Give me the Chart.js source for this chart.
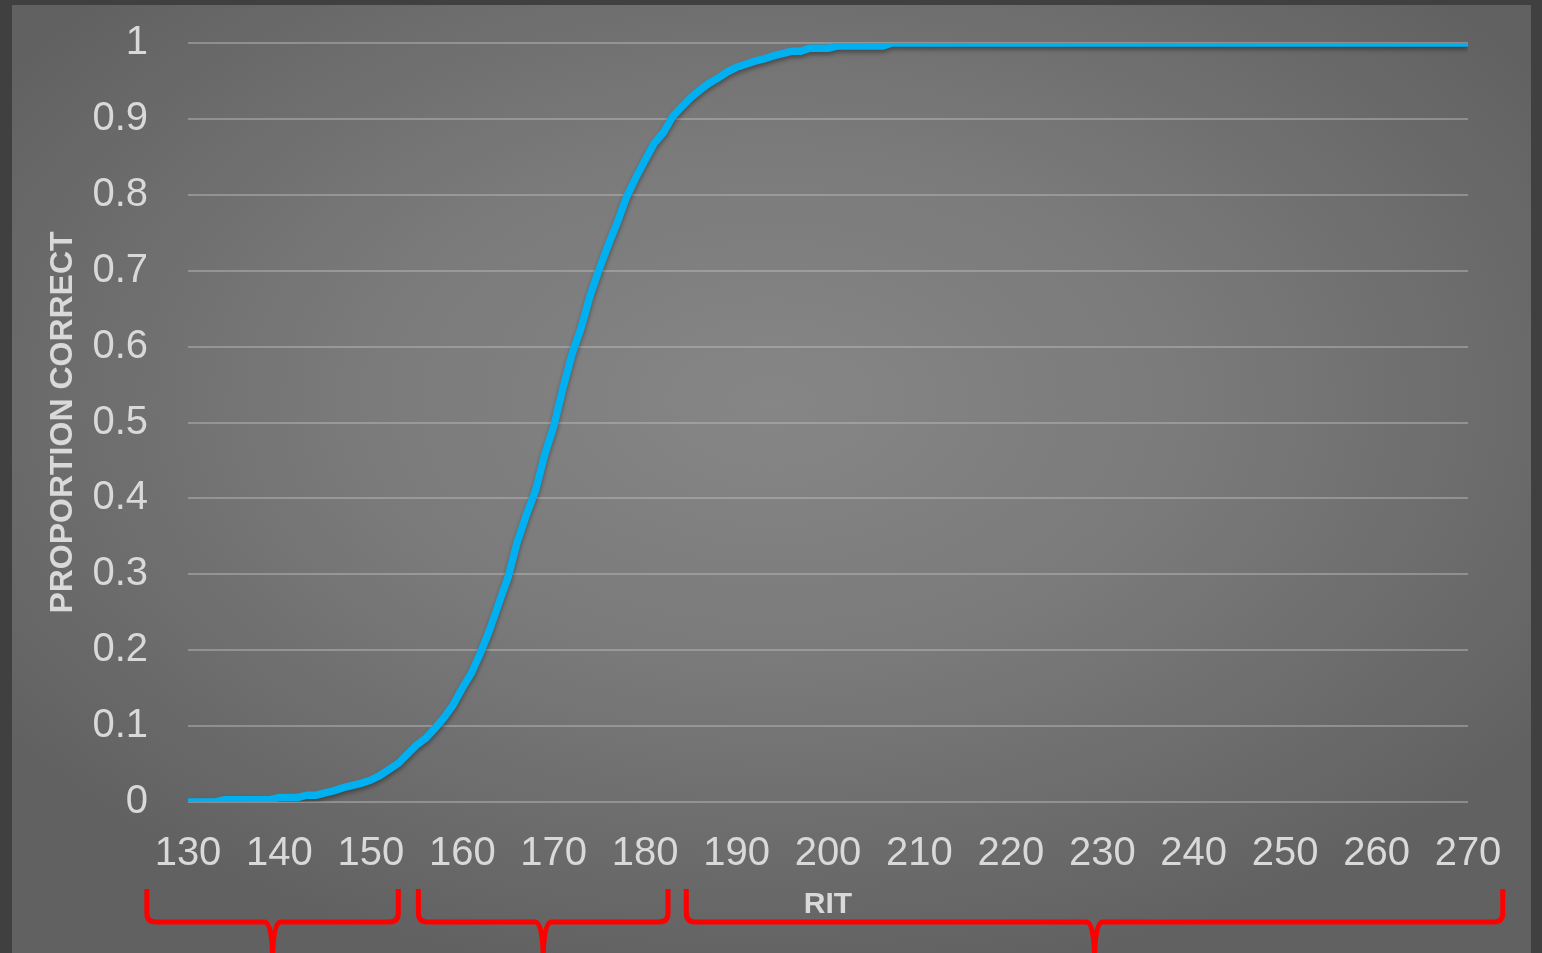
<!DOCTYPE html>
<html>
<head>
<meta charset="utf-8">
<title>Proportion correct by RIT</title>
<script src="https://cdn.jsdelivr.net/npm/chart.js@4/dist/chart.umd.min.js"></script>
<style>
  html, body { margin: 0; padding: 0; }
  body { width: 1542px; height: 953px; background: #404040; position: relative; overflow: hidden; }
  #panel {
    position: absolute; left: 12px; top: 5px; width: 1519px; height: 948px;
    background: radial-gradient(ellipse 62% 62% at 50% 42%, #868686 0%, #7a7a7a 45%, #6a6a6a 80%, #616161 100%);
  }
  #chart { position: absolute; left: 0; top: 0; }
</style>
</head>
<body>
<div id="panel"></div>
<canvas id="chart" width="1542" height="953"></canvas>
<script>
// RIT score for every point of the curve (one per scale point)
const ritStart = 130;
const ritEnd = 270;
const rit = [];
for (let r = ritStart; r <= ritEnd; r++) rit.push(r);

// proportion correct, 130 .. 270
const proportion = [
  0.000, 0.000, 0.000, 0.000, 0.003, 0.003, 0.003, 0.003, 0.003, 0.003, // 130-139
  0.006, 0.006, 0.006, 0.009, 0.009, 0.012, 0.015, 0.019, 0.022, 0.025, // 140-149
  0.029, 0.035, 0.043, 0.051, 0.063, 0.075, 0.084, 0.097, 0.111, 0.128, // 150-159
  0.150, 0.170, 0.197, 0.227, 0.262, 0.296, 0.342, 0.378, 0.410, 0.457, // 160-169
  0.495, 0.545, 0.590, 0.625, 0.668, 0.703, 0.735, 0.765, 0.798, 0.823, // 170-179
  0.846, 0.868, 0.882, 0.903, 0.916, 0.928, 0.938, 0.947, 0.954, 0.962, // 180-189
  0.968, 0.972, 0.976, 0.979, 0.983, 0.986, 0.989, 0.989, 0.993, 0.993, // 190-199
  0.993, 0.996, 0.996, 0.996, 0.996, 0.996, 0.996, 1.000, 1.000, 1.000, // 200-209
  1, 1, 1, 1, 1, 1, 1, 1, 1, 1, // 210-219
  1, 1, 1, 1, 1, 1, 1, 1, 1, 1, // 220-229
  1, 1, 1, 1, 1, 1, 1, 1, 1, 1, // 230-239
  1, 1, 1, 1, 1, 1, 1, 1, 1, 1, // 240-249
  1, 1, 1, 1, 1, 1, 1, 1, 1, 1, // 250-259
  1, 1, 1, 1, 1, 1, 1, 1, 1, 1, // 260-269
  1                              // 270
];

// tick labels
const xTicks = [130, 140, 150, 160, 170, 180, 190, 200, 210, 220, 230, 240, 250, 260, 270];
const yTicks = [0, 0.1, 0.2, 0.3, 0.4, 0.5, 0.6, 0.7, 0.8, 0.9, 1];

// red braces under the axis (RIT range each one spans)
const braceFrom = [125.5, 155.2, 184.5];
const braceTo = [153.0, 182.5, 273.8];

const points = rit.map((r, i) => ({ x: r, y: proportion[i] }));

// soft shadow under the line
const lineShadow = {
  id: 'lineShadow',
  beforeDatasetsDraw(chart) {
    const ctx = chart.ctx;
    ctx.save();
    ctx.shadowColor = 'rgba(0,0,0,0.35)';
    ctx.shadowBlur = 4;
    ctx.shadowOffsetY = 3;
  },
  afterDatasetsDraw(chart) {
    chart.ctx.restore();
  }
};

// braces drawn from the x scale
const braces = {
  id: 'braces',
  afterDraw(chart) {
    const ctx = chart.ctx;
    const xs = chart.scales.x;
    const base = chart.chartArea.bottom;
    const yTop = base + 87;
    const yLine = base + 120;
    const yBottom = chart.height + 2;
    const r = 9;
    ctx.save();
    ctx.strokeStyle = '#ff0000';
    ctx.lineWidth = 5;
    ctx.lineCap = 'butt';
    ctx.lineJoin = 'round';
    braceFrom.forEach((from, i) => {
      const x1 = xs.getPixelForValue(from);
      const x2 = xs.getPixelForValue(braceTo[i]);
      const xm = (x1 + x2) / 2;
      ctx.beginPath();
      ctx.moveTo(x1, yTop);
      ctx.lineTo(x1, yLine - r);
      ctx.quadraticCurveTo(x1, yLine, x1 + r, yLine);
      ctx.lineTo(xm - 8, yLine);
      ctx.quadraticCurveTo(xm - 1, yLine, xm, yBottom);
      ctx.moveTo(xm, yBottom);
      ctx.quadraticCurveTo(xm + 1, yLine, xm + 8, yLine);
      ctx.lineTo(x2 - r, yLine);
      ctx.quadraticCurveTo(x2, yLine, x2, yLine - r);
      ctx.lineTo(x2, yTop);
      ctx.stroke();
    });
    ctx.restore();
  }
};

const labelColor = '#d9d9d9';

new Chart(document.getElementById('chart'), {
  type: 'line',
  data: {
    datasets: [{
      data: points,
      borderColor: '#00b0f0',
      borderWidth: 7.5,
      pointRadius: 0,
      tension: 0,
      fill: false
    }]
  },
  options: {
    responsive: false,
    devicePixelRatio: 1,
    animation: false,
    layout: { padding: { left: 0, top: 43, right: 74, bottom: 0 } },
    plugins: {
      legend: { display: false },
      tooltip: { enabled: false }
    },
    scales: {
      x: {
        type: 'linear',
        min: ritStart,
        max: ritEnd,
        afterBuildTicks(scale) { scale.ticks = xTicks.map(v => ({ value: v })); },
        afterFit(scale) { scale.height = 151; },
        grid: { display: false, drawTicks: false },
        border: { display: false },
        ticks: {
          color: labelColor,
          font: { family: 'Liberation Sans, Arial, sans-serif', size: 40 },
          padding: 28,
          maxRotation: 0,
          autoSkip: false
        },
        title: {
          display: true,
          text: 'RIT',
          color: labelColor,
          font: { family: 'Liberation Sans, Arial, sans-serif', size: 30, weight: 'bold' },
          padding: { top: 0, bottom: 30 }
        }
      },
      y: {
        min: 0,
        max: 1,
        afterBuildTicks(scale) { scale.ticks = yTicks.map(v => ({ value: v })); },
        afterFit(scale) {
          scale.width = 188;
          // labels sit beside the gridlines, no extra room needed above/below
          scale.paddingTop = 0;
          scale.paddingBottom = 0;
        },
        grid: { color: 'rgba(190,190,190,0.45)', lineWidth: 2, drawTicks: false },
        border: { display: false },
        ticks: {
          color: labelColor,
          font: { family: 'Liberation Sans, Arial, sans-serif', size: 40 },
          padding: 40,
          callback: v => String(v)
        },
        title: {
          display: true,
          text: 'PROPORTION CORRECT',
          color: labelColor,
          font: { family: 'Liberation Sans, Arial, sans-serif', size: 32, weight: 'bold' },
          padding: { top: 44, bottom: 0 }
        }
      }
    }
  },
  plugins: [lineShadow, braces]
});
</script>
</body>
</html>
